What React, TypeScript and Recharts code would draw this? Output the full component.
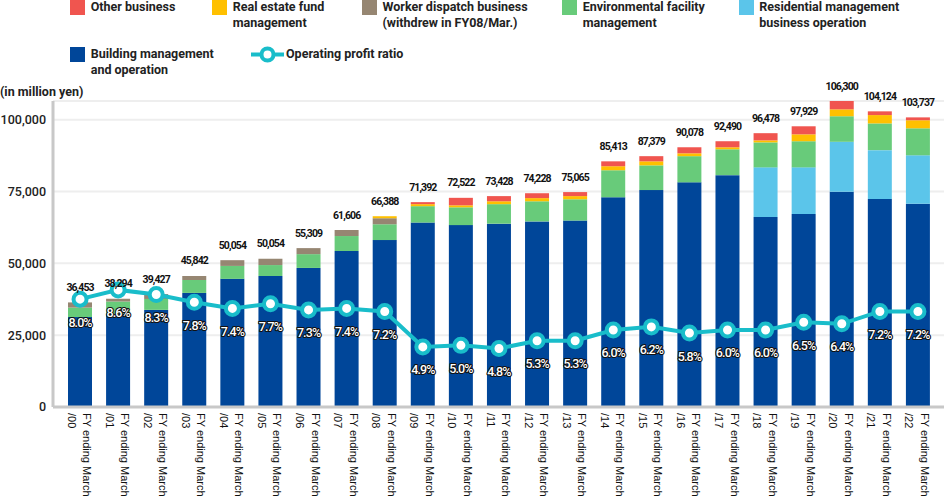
import React from 'react';
import {
  ComposedChart,
  Bar,
  Line,
  XAxis,
  YAxis,
  CartesianGrid,
  LabelList,
} from 'recharts';

const categories = ['/00', '/01', '/02', '/03', '/04', '/05', '/06', '/07', '/08', '/09', '/10', '/11', '/12', '/13', '/14', '/15', '/16', '/17', '/18', '/19', '/20', '/21', '/22'];
const building = [31300, 32400, 33800, 39700, 44600, 45600, 48400, 54300, 58100, 64200, 63300, 63800, 64600, 64900, 73000, 75500, 78200, 80700, 66100, 67200, 74900, 72400, 70700];
const residential = [0, 0, 0, 0, 0, 0, 0, 0, 0, 0, 0, 0, 0, 0, 0, 0, 0, 0, 17300, 16200, 17400, 17000, 16900];
const environmental = [3300, 4300, 3800, 4500, 4500, 3800, 4800, 5200, 5500, 5700, 6200, 6800, 7000, 7400, 9400, 8600, 9100, 9000, 8700, 9100, 8900, 9300, 9400];
const workerDispatch = [1800, 1000, 1700, 1400, 2000, 2200, 2100, 2100, 2100, 0, 0, 0, 0, 0, 0, 0, 0, 0, 0, 0, 0, 0, 0];
const realEstate = [0, 0, 0, 0, 0, 0, 0, 0, 700, 700, 700, 1000, 1100, 1100, 1400, 1400, 1000, 700, 700, 2400, 2400, 2900, 2800];
const other = [0, 0, 0, 0, 0, 0, 0, 0, 0, 700, 2600, 1800, 1700, 1400, 1700, 1800, 2100, 2100, 2500, 2800, 2900, 1300, 1000];
const totals = [36453, 38294, 39427, 45842, 50054, 50054, 55309, 61606, 66388, 71392, 72522, 73428, 74228, 75065, 85413, 87379, 90078, 92490, 96478, 97929, 106300, 104124, 103737];
const profitRatio = [8.0, 8.6, 8.3, 7.8, 7.4, 7.7, 7.3, 7.4, 7.2, 4.9, 5.0, 4.8, 5.3, 5.3, 6.0, 6.2, 5.8, 6.0, 6.0, 6.5, 6.4, 7.2, 7.2];
const yTicks = [0, 25000, 50000, 75000, 100000];
const xPrefix = 'FY ending March';

const COLORS = {
  building: '#004699',
  residential: '#5bc5ea',
  environmental: '#68cb7a',
  worker: '#968672',
  realEstate: '#ffc000',
  other: '#f0554f',
  line: '#19bdca',
};

const data = categories.map((c, i) => ({
  name: c,
  building: building[i],
  residential: residential[i],
  environmental: environmental[i],
  worker: workerDispatch[i],
  realEstate: realEstate[i],
  other: other[i],
  barTop: building[i] + residential[i] + environmental[i] + workerDispatch[i] + realEstate[i] + other[i],
  total: totals[i],
  ratio: profitRatio[i],
}));

const FONT = 'Roboto, "Noto Sans", sans-serif';

const XTick = (props: any) => {
  const { x, y, payload } = props;
  return (
    <g transform={`translate(${x},${y})`}>
      <text transform="rotate(90)" fontSize={11} fontFamily='"Liberation Sans", Arial, sans-serif' fill="#111">
        <tspan x={6} y={-3}>{xPrefix}</tspan>
        <tspan x={6} y={12.5}>{payload.value}</tspan>
      </text>
    </g>
  );
};

const TotalLabel = (props: any) => {
  const { x, y, value } = props;
  return (
    <text
      x={Number(x)}
      y={Number(y) - 15}
      textAnchor="middle"
      dominantBaseline="central"
      fontSize={10.5}
      fontWeight={700}
      letterSpacing={-0.9}
      fontFamily={FONT}
      fill="#111"
    >
      {Number(value).toLocaleString('en-US')}
    </text>
  );
};

const RatioLabel = (props: any) => {
  const { x, y, value } = props;
  return (
    <text
      x={Number(x)}
      y={Number(y) + 23}
      textAnchor="middle"
      dominantBaseline="central"
      fontSize={12.5}
      fontWeight={500}
      letterSpacing={-0.9}
      fontFamily={FONT}
      fill="#fff"
      stroke="#111"
      strokeWidth={2.2}
      paintOrder="stroke"
      strokeLinejoin="round"
    >
      {`${Number(value).toFixed(1)}%`}
    </text>
  );
};

const RatioDot = (props: any) => {
  const { cx, cy, index } = props;
  return <circle key={`d${index}`} cx={cx} cy={cy} r={6.5} fill="#fff" stroke={COLORS.line} strokeWidth={4} />;
};

const legendText: React.CSSProperties = {
  position: 'absolute',
  fontFamily: FONT,
  fontSize: 12.5,
  fontWeight: 700,
  lineHeight: '15.7px',
  color: '#222',
  whiteSpace: 'nowrap',
};

const Sq = ({ x, y, color }: { x: number; y: number; color: string }) => (
  <div style={{ position: 'absolute', left: x, top: y, width: 15, height: 15, background: color }} />
);

export default function App() {
  return (
    <div style={{ position: 'absolute', left: 0, top: 0, width: 944, height: 500, background: '#fff', overflow: 'hidden' }}>
      <ComposedChart
        width={944}
        height={500}
        data={data}
        margin={{ top: 101, right: 0, bottom: 13, left: 0 }}
        barCategoryGap={0}
      >
        <CartesianGrid vertical={false} stroke="#eeeeee" strokeWidth={2} yAxisId="left" />
        <XAxis
          dataKey="name"
          height={80}
          tick={<XTick />}
          tickLine={false}
          tickSize={0}
          tickMargin={0}
          interval={0}
          axisLine={{ stroke: '#c8c8c8', strokeWidth: 3 }}
          padding={{ left: 8, right: 7 }}
        />
        <YAxis
          yAxisId="left"
          width={53}
          domain={[0, 106500]}
          ticks={yTicks}
          tickFormatter={(v: number) => v.toLocaleString('en-US')}
          tickLine={false}
          tickSize={0}
          tickMargin={7}
          axisLine={{ stroke: '#c8c8c8', strokeWidth: 3 }}
          tick={{ fontSize: 12.5, fontFamily: FONT, fontWeight: 500, fill: '#222' }}
        />
        <YAxis yAxisId="right" orientation="right" hide domain={[1.0, 20.86]} />
        <Bar yAxisId="left" dataKey="building" stackId="a" fill={COLORS.building} barSize={24} isAnimationActive={false} />
        <Bar yAxisId="left" dataKey="residential" stackId="a" fill={COLORS.residential} barSize={24} isAnimationActive={false} />
        <Bar yAxisId="left" dataKey="environmental" stackId="a" fill={COLORS.environmental} barSize={24} isAnimationActive={false} />
        <Bar yAxisId="left" dataKey="worker" stackId="a" fill={COLORS.worker} barSize={24} isAnimationActive={false} />
        <Bar yAxisId="left" dataKey="realEstate" stackId="a" fill={COLORS.realEstate} barSize={24} isAnimationActive={false} />
        <Bar yAxisId="left" dataKey="other" stackId="a" fill={COLORS.other} barSize={24} isAnimationActive={false} />
        <Line
          yAxisId="left"
          dataKey="barTop"
          stroke="none"
          dot={false}
          activeDot={false}
          legendType="none"
          isAnimationActive={false}
        >
          <LabelList dataKey="total" content={<TotalLabel />} />
        </Line>
        <Line
          yAxisId="right"
          dataKey="ratio"
          stroke={COLORS.line}
          strokeWidth={4}
          dot={<RatioDot />}
          activeDot={false}
          isAnimationActive={false}
        >
          <LabelList dataKey="ratio" content={<RatioLabel />} />
        </Line>
      </ComposedChart>

      {/* Legend */}
      <Sq x={70} y={0} color={COLORS.other} />
      <div style={{ ...legendText, left: 90.7, top: -1 }}>Other business</div>
      <Sq x={212} y={0} color={COLORS.realEstate} />
      <div style={{ ...legendText, left: 232.7, top: -1 }}>Real estate fund<br />management</div>
      <Sq x={362} y={0} color={COLORS.worker} />
      <div style={{ ...legendText, left: 382.5, top: -1 }}>Worker dispatch business<br />(withdrew in FY08/Mar.)</div>
      <Sq x={562} y={0} color={COLORS.environmental} />
      <div style={{ ...legendText, left: 582.7, top: -1 }}>Environmental facility<br />management</div>
      <Sq x={739} y={0} color={COLORS.residential} />
      <div style={{ ...legendText, left: 759.3, top: -1 }}>Residential management<br />business operation</div>
      <Sq x={70} y={47} color={COLORS.building} />
      <div style={{ ...legendText, left: 90.7, top: 46 }}>Building management<br />and operation</div>
      <svg style={{ position: 'absolute', left: 251, top: 46 }} width={34} height={17}>
        <line x1={0} y1={8.5} x2={33} y2={8.5} stroke={COLORS.line} strokeWidth={4} />
        <circle cx={16.5} cy={8.5} r={6} fill="#fff" stroke={COLORS.line} strokeWidth={4} />
      </svg>
      <div style={{ ...legendText, left: 286, top: 46 }}>Operating profit ratio</div>
      <div style={{ ...legendText, left: 0, top: 84 }}>(in million yen)</div>
    </div>
  );
}
